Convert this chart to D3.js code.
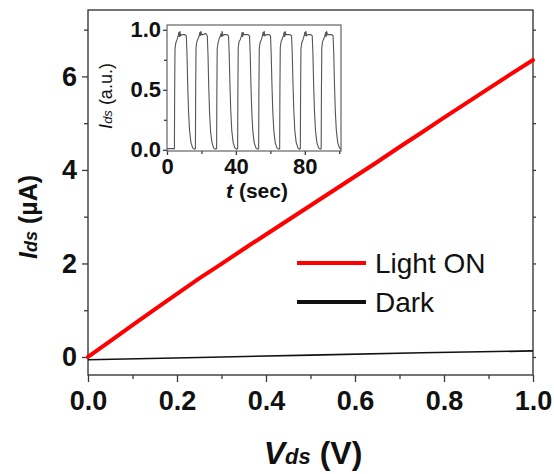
<!DOCTYPE html>
<html>
<head>
<meta charset="utf-8">
<script src="https://cdn.jsdelivr.net/npm/d3@7"></script>
<style>
  html, body { margin: 0; padding: 0; background: #fff; }
  svg { display: block; font-family: "Liberation Sans", Arial, sans-serif; }
</style>
</head>
<body>
<svg id="chart" width="554" height="474"></svg>
<script>
// Output characteristics: drain current vs drain voltage
const vds = [0, 0.05, 0.1, 0.15, 0.2, 0.25, 0.3, 0.35, 0.4, 0.45, 0.5,
             0.55, 0.6, 0.65, 0.7, 0.75, 0.8, 0.85, 0.9, 0.95, 1.0];
const idsLight = [0.0, 0.34, 0.68, 1.02, 1.35, 1.68, 1.99, 2.31, 2.62, 2.93, 3.24,
                  3.55, 3.86, 4.17, 4.49, 4.80, 5.12, 5.43, 5.74, 6.05, 6.35];
const vdsDark = [0, 0.25, 0.5, 0.75, 1.0];
const idsDark = [-0.06, -0.01, 0.04, 0.09, 0.13];

const xTicks = [0, 0.2, 0.4, 0.6, 0.8, 1.0];
const yTicks = [0, 2, 4, 6];

// Photoresponse switching (inset): [time (s), normalised current]
const switching = [
  [0,0.01],
  [4.3,0.01],[4.45,0.5],[4.65,0.84],[5.1,0.89],[5.9,0.92],[6.5,0.95],[6.9,0.98],[7.2,0.94],[7.5,0.99],[7.9,0.95],[8.8,0.96],[10.3,0.96],[11.2,0.95],[11.6,0.8],[12.0,0.55],[12.5,0.32],[13.1,0.16],[13.9,0.06],[14.9,0.015],[15.9,0.005],
  [16.5,0.01],[16.65,0.52],[16.85,0.85],[17.3,0.9],[18.1,0.93],[18.7,0.95],[19.1,0.98],[19.4,0.95],[19.7,0.99],[20.1,0.96],[21.0,0.96],[22.5,0.97],[23.4,0.95],[23.8,0.79],[24.2,0.54],[24.7,0.31],[25.3,0.15],[26.1,0.06],[27.1,0.015],[28.1,0.005],
  [28.8,0.01],[28.95,0.5],[29.15,0.84],[29.6,0.89],[30.4,0.93],[31.0,0.95],[31.4,0.97],[31.7,0.94],[32.0,0.99],[32.4,0.95],[33.3,0.96],[34.8,0.96],[35.7,0.95],[36.1,0.8],[36.5,0.56],[37.0,0.33],[37.6,0.16],[38.4,0.06],[39.4,0.015],[40.4,0.005],
  [41.0,0.01],[41.15,0.51],[41.35,0.85],[41.8,0.9],[42.6,0.92],[43.2,0.95],[43.6,0.98],[43.9,0.94],[44.2,0.98],[44.6,0.96],[45.5,0.96],[47.0,0.96],[47.9,0.95],[48.3,0.8],[48.7,0.55],[49.2,0.32],[49.8,0.16],[50.6,0.06],[51.6,0.015],[52.6,0.005],
  [53.2,0.01],[53.35,0.5],[53.55,0.84],[54.0,0.89],[54.8,0.92],[55.4,0.95],[55.8,0.98],[56.1,0.95],[56.4,0.99],[56.8,0.95],[57.7,0.96],[59.2,0.96],[60.1,0.95],[60.5,0.79],[60.9,0.55],[61.4,0.32],[62.0,0.16],[62.8,0.06],[63.8,0.015],[64.8,0.005],
  [65.4,0.01],[65.55,0.52],[65.75,0.85],[66.2,0.9],[67.0,0.93],[67.6,0.95],[68.0,0.98],[68.3,0.94],[68.6,0.99],[69.0,0.96],[69.9,0.96],[71.4,0.96],[72.3,0.95],[72.7,0.8],[73.1,0.56],[73.6,0.33],[74.2,0.16],[75.0,0.06],[76.0,0.015],[77.0,0.005],
  [77.4,0.01],[77.55,0.5],[77.75,0.84],[78.2,0.89],[79.0,0.92],[79.6,0.95],[80.0,0.98],[80.3,0.95],[80.6,0.99],[81.0,0.95],[81.9,0.96],[83.4,0.96],[84.3,0.95],[84.7,0.8],[85.1,0.55],[85.6,0.32],[86.2,0.16],[87.0,0.06],[88.0,0.015],[89.0,0.005],
  [89.5,0.01],[89.65,0.51],[89.85,0.85],[90.3,0.9],[91.1,0.93],[91.7,0.95],[92.1,0.98],[92.4,0.94],[92.7,0.99],[93.1,0.96],[94.0,0.96],[95.5,0.96],[96.4,0.95],[96.8,0.8],[97.2,0.55],[97.7,0.32],[98.3,0.16],[99.1,0.06],[100.1,0.015],[101,0.005]
];
const insetXTicks = [0, 40, 80];
const insetYTicks = [0, 0.5, 1.0];

const svg = d3.select("#chart");
const axisColor = "#3a3a3a";

// ---- main panel ----
const L = 88, T = 10, R = 533, B = 375;
const x = d3.scaleLinear().domain([0, 1]).range([L, R]);
const y = d3.scaleLinear().domain([-0.385, 7.42]).range([B, T]);

function styleAxis(g) {
  g.select(".domain").remove();
  g.selectAll("line").attr("stroke", axisColor).attr("stroke-width", 1.3);
  g.selectAll("text").attr("fill", "#111");
}

// minor ticks
svg.append("g").attr("transform", `translate(0,${B})`)
  .call(d3.axisBottom(x).tickValues(d3.range(0.1, 1, 0.2)).tickSize(4).tickFormat(""))
  .call(styleAxis);
svg.append("g").attr("transform", `translate(${L},0)`)
  .call(d3.axisLeft(y).tickValues([1, 3, 5, 7]).tickSize(4).tickFormat(""))
  .call(styleAxis);

// major ticks + labels
svg.append("g").attr("transform", `translate(0,${B})`)
  .call(d3.axisBottom(x).tickValues(xTicks).tickSize(7).tickPadding(9).tickFormat(d3.format(".1f")))
  .call(styleAxis)
  .selectAll("text").attr("font-size", 27).attr("font-weight", "bold");
svg.append("g").attr("transform", `translate(${L},0)`)
  .call(d3.axisLeft(y).tickValues(yTicks).tickSize(6).tickPadding(5).tickFormat(d3.format("d")))
  .call(styleAxis)
  .selectAll("text").attr("font-size", 27).attr("font-weight", "bold");

// right-side small ticks
svg.append("g").attr("transform", `translate(${R},0)`)
  .call(d3.axisRight(y).tickValues([0, 1, 2, 3, 4, 5, 6, 7]).tickSize(3).tickFormat(""))
  .call(styleAxis);

// frame
svg.append("rect").attr("x", L).attr("y", T).attr("width", R - L).attr("height", B - T)
  .attr("fill", "none").attr("stroke", axisColor).attr("stroke-width", 1.4);

// curves
const lineMain = d3.line().x(d => x(d[0])).y(d => y(d[1]));
svg.append("path").datum(vdsDark.map((v, i) => [v, idsDark[i]]))
  .attr("d", lineMain).attr("fill", "none").attr("stroke", "#111").attr("stroke-width", 1.6);
svg.append("path").datum(vds.map((v, i) => [v, idsLight[i]]))
  .attr("d", lineMain).attr("fill", "none").attr("stroke", "#ff0000").attr("stroke-width", 4)
  .attr("stroke-linecap", "round").attr("stroke-linejoin", "round");

// axis titles
const xt = svg.append("text").attr("x", 313).attr("y", 464).attr("text-anchor", "middle")
  .attr("font-weight", "bold").attr("font-size", 32).attr("fill", "#111");
xt.append("tspan").attr("font-style", "italic").text("V");
xt.append("tspan").attr("font-style", "italic").attr("font-size", 22).text("ds");
xt.append("tspan").text(" (V)");

const yt = svg.append("text").attr("transform", "translate(37,217) rotate(-90)")
  .attr("text-anchor", "middle").attr("font-weight", "bold").attr("font-size", 25).attr("fill", "#111");
yt.append("tspan").attr("font-style", "italic").text("I");
yt.append("tspan").attr("font-style", "italic").attr("font-size", 18).text("ds");
yt.append("tspan").text(" (\u00b5A)");

// legend
const legend = [
  { label: "Light ON", color: "#ff0000", w: 4, yy: 263 },
  { label: "Dark", color: "#111", w: 4, yy: 302 }
];
const lg = svg.append("g");
lg.selectAll("line").data(legend).join("line")
  .attr("x1", 297).attr("x2", 366).attr("y1", d => d.yy).attr("y2", d => d.yy)
  .attr("stroke", d => d.color).attr("stroke-width", d => d.w);
lg.selectAll("text").data(legend).join("text")
  .attr("x", 375).attr("y", d => d.yy + 10).attr("font-size", 28).attr("fill", "#111")
  .text(d => d.label);

// ---- inset ----
const iL = 167, iT = 25, iR = 341, iB = 151;
const ix = d3.scaleLinear().domain([0, 101]).range([iL, iR]);
const iy = d3.scaleLinear().domain([-0.01, 1.04]).range([iB, iT]);

svg.append("g").attr("transform", `translate(0,${iB})`)
  .call(d3.axisBottom(ix).tickValues([20, 60, 100]).tickSize(3).tickFormat(""))
  .call(styleAxis);
svg.append("g").attr("transform", `translate(${iL},0)`)
  .call(d3.axisLeft(iy).tickValues([0.25, 0.75]).tickSize(3).tickFormat(""))
  .call(styleAxis);
svg.append("g").attr("transform", `translate(0,${iB})`)
  .call(d3.axisBottom(ix).tickValues(insetXTicks).tickSize(4).tickPadding(3).tickFormat(d3.format("d")))
  .call(styleAxis)
  .selectAll("text").attr("font-size", 22).attr("font-weight", "bold");
svg.append("g").attr("transform", `translate(${iL},0)`)
  .call(d3.axisLeft(iy).tickValues(insetYTicks).tickSize(4).tickPadding(2).tickFormat(d3.format(".1f")))
  .call(styleAxis)
  .selectAll("text").attr("font-size", 22).attr("font-weight", "bold");

svg.append("rect").attr("x", iL).attr("y", iT).attr("width", iR - iL).attr("height", iB - iT)
  .attr("fill", "none").attr("stroke", "#555").attr("stroke-width", 1.1);

svg.append("path").datum(switching)
  .attr("d", d3.line().x(d => ix(d[0])).y(d => iy(d[1])))
  .attr("fill", "none").attr("stroke", "#555").attr("stroke-width", 1.1);

const ixt = svg.append("text").attr("x", 257).attr("y", 198).attr("text-anchor", "middle")
  .attr("font-weight", "bold").attr("font-size", 21).attr("fill", "#111");
ixt.append("tspan").attr("font-style", "italic").text("t");
ixt.append("tspan").text(" (sec)");

const iyt = svg.append("text").attr("transform", "translate(112,96) rotate(-90)")
  .attr("text-anchor", "middle").attr("font-size", 18).attr("fill", "#111");
iyt.append("tspan").attr("font-style", "italic").text("I");
iyt.append("tspan").attr("font-style", "italic").attr("font-size", 13).text("ds");
iyt.append("tspan").text(" (a.u.)");
</script>
</body>
</html>
